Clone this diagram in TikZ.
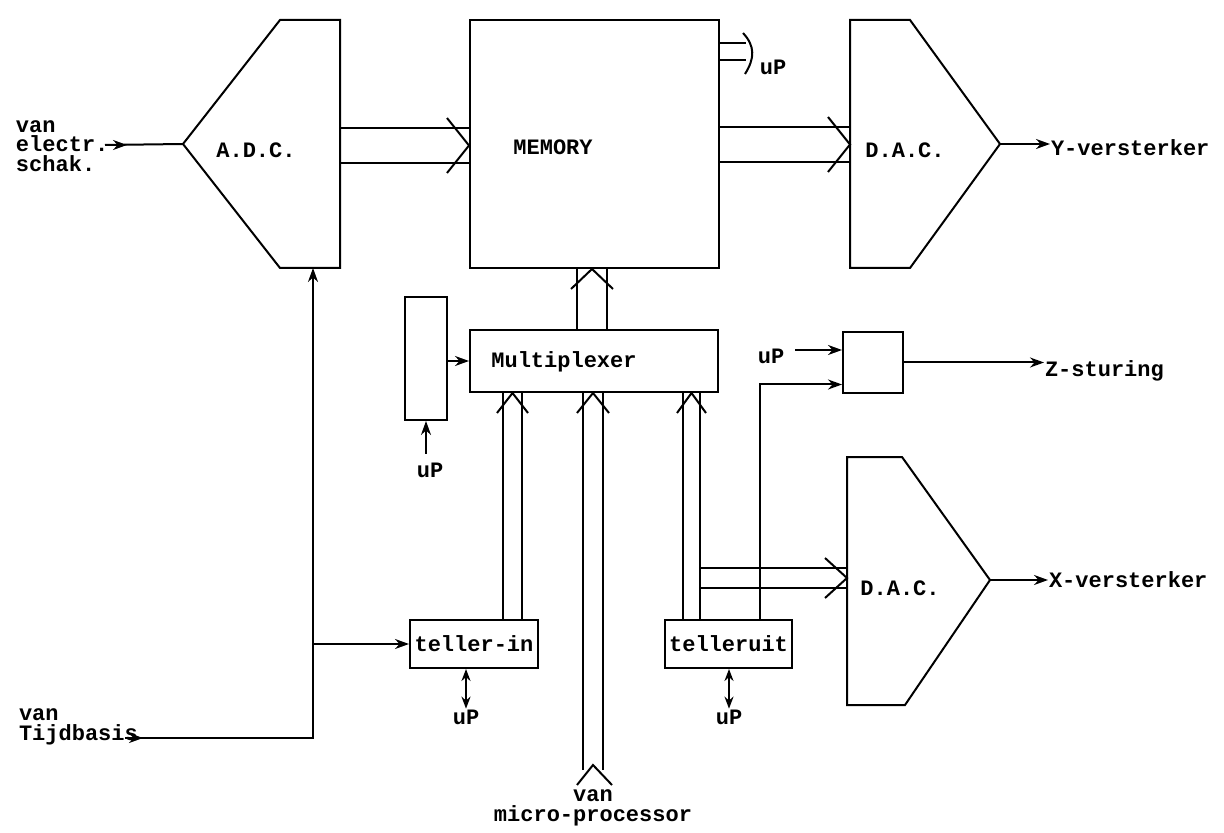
\documentclass[tikz,border=0pt]{standalone}
\usepackage{fontspec}
\setmonofont{Liberation Mono}
\usetikzlibrary{arrows.meta,positioning,calc}
\newcommand{\lbfont}{\ttfamily\bfseries\fontsize{11}{9.8}\selectfont}
\tikzset{
  blk/.style={draw,line width=1pt,inner sep=0pt},
  lbl/.style={font=\lbfont,inner sep=0pt,align=left},
  arr/.style={-{Stealth[length=7pt,width=5pt]},line width=1pt},
  darr/.style={{Stealth[length=6pt,width=4.5pt]}-{Stealth[length=6pt,width=4.5pt]},line width=1pt},
  bus/.style={line width=1pt},
}
% horizontal bus: top y, bottom y, from, to
\newcommand{\hbus}[4]{%
  \draw[bus] (0,#1 -| #3) -- (0,#1 -| #4) (0,#2 -| #3) -- (0,#2 -| #4);
  \path (0,#1 -| #4) coordinate (hb-a) (0,#2 -| #4) coordinate (hb-b);
  \draw[bus] ($(hb-a)+(-22,-10)$) -- ($(hb-a)!.5!(hb-b)$) -- ($(hb-b)+(-22,10)$);}
% vertical bus: left x, right x, from, to
\newcommand{\vbus}[4]{%
  \draw[bus] (#1,0 |- #3) -- (#1,0 |- #4) (#2,0 |- #3) -- (#2,0 |- #4);
  \path (#1,0 |- #4) coordinate (vb-a) (#2,0 |- #4) coordinate (vb-b);
  \draw[bus] ($(vb-a)+(-6,20)$) -- ($(vb-a)!.5!(vb-b)$) -- ($(vb-b)+(6,20)$);}

\begin{document}
\begin{tikzpicture}[x=0.5pt,y=-0.5pt,line width=1pt]
  \useasboundingbox (0,0) rectangle (1224,833);
  % A.D.C.
  \draw[blk] (183,144) coordinate (adc-in) -- (280,20) -- (340,20) -- (340,268)
        -- (280,268) -- cycle;
  \coordinate (adc-r) at (340,144);
  \coordinate (adc-b) at (313,268);
  \node[lbl] (adc) at (256,150) {A.D.C.};
  \node[lbl,anchor=west] (elec) at (15,146) {van\\electr.\\schak.};
  \coordinate (elec-s) at (105,145);
  \draw (elec-s) -- (adc-in);
  \draw[arr] (elec-s) -- ++(22,0);

  % memory
  \node[blk,minimum width=124.5pt,minimum height=124pt] (mem) at (594.5,144) {};
  \node[lbl] (memtxt) at (553,147) {MEMORY};
  \draw[bus] (mem.east |- 0,43) -- ++(26,0) (mem.east |- 0,60) -- ++(26,0);
  \coordinate (upm) at (745,52);
  \draw[bus] ($(upm)+(-2,-19)$) .. controls ($(upm)+(10,-6)$) and ($(upm)+(10,6)$) .. ($(upm)+(0,22)$);
  \node[lbl] (upmem) at (773,67) {uP};
  \hbus{128}{163}{adc-r}{mem.west}

  % top D.A.C.
  \draw[blk] (850,20) -- (910,20) -- (1000,144) coordinate (dacy-out) -- (910,268)
        -- (850,268) -- cycle;
  \coordinate (dacy-in) at (850,144);
  \node[lbl] (dacy) at (905,150) {D.A.C.};
  \node[lbl,anchor=west] (yv) at (1050,148) {Y-versterker};
  \draw[arr] (dacy-out) -- (dacy-out -| yv.west);
  \hbus{127}{162}{mem.east}{dacy-in}

  % multiplexer
  \node[blk,minimum width=124pt,minimum height=31pt] (mux) at (594,361) {};
  \node[lbl] (muxtxt) at (564,362) {Multiplexer};
  \node[blk,minimum width=21pt,minimum height=61.5pt] (reg) at (426,358.5) {};
  \draw[arr] (reg.east |- mux.west) -- (mux.west);
  \node[lbl] (upreg) at (430,470) {uP};
  \draw[arr] ([yshift=4pt]upreg.north -| reg.south) -- (reg.south);
  \vbus{577}{607}{mux.north}{mem.south}

  % Z-sturing
  \node[blk,minimum width=30pt,minimum height=30.5pt] (zbox) at (873,362.5) {};
  \node[lbl] (upz) at (771,356) {uP};
  \draw[arr] ([shift={(5pt,3pt)}]upz.east) coordinate (upz-s) -- (upz-s -| zbox.west);
  \node[lbl,anchor=west] (zst) at (1044,371) {Z-sturing};
  \draw[arr] (zbox.east) -- (zbox.east -| zst.west);

  % tellers
  \node[blk,lbl,minimum width=64pt,minimum height=24pt] (tin) at (474,644) {teller-in};
  \node[blk,lbl,minimum width=63.5pt,minimum height=24pt] (tuit) at (728.5,644) {telleruit};
  \node[lbl] (uptin) at (466,717) {uP};
  \node[lbl] (uptuit) at (729,717) {uP};
  \draw[darr] (uptin.north |- tin.south) -- (uptin.north);
  \draw[darr] (uptuit.north |- tuit.south) -- (uptuit.north);
  \vbus{503}{522}{tin.north}{mux.south}
  \vbus{683}{700}{tuit.north}{mux.south}
  \draw[arr] (760,0 |- tuit.north) |- ([yshift=-11pt]zbox.west);

  % van Tijdbasis
  \node[lbl,anchor=west] (tijd) at (18,727) {van\\Tijdbasis};
  \coordinate (tijd-s) at (125,738);
  \draw[arr] (tijd-s) -| (adc-b);
  \draw[arr] (tijd-s) -- ++(18,0);
  \draw[arr] (adc-b |- tin.west) -- (tin.west);

  % micro-processor bus
  \coordinate (mp) at (593,770);
  \vbus{583}{603}{mp}{mux.south}
  \draw[bus] ($(mp)+(-16,15)$) -- ($(mp)+(0,-5)$) -- ($(mp)+(19,15)$);
  \node[lbl,align=center] (mptxt) at (593,808) {van\\micro-processor};

  % bottom D.A.C.
  \draw[blk] (847,457) -- (902,457) -- (990,580) coordinate (dacx-out) -- (905,705)
        -- (847,705) -- cycle;
  \coordinate (dacx-in) at (847,578);
  \node[lbl] (dacx) at (900,588) {D.A.C.};
  \node[lbl,anchor=west] (xv) at (1048,580) {X-versterker};
  \draw[arr] (dacx-out) -- (dacx-out -| xv.west);
  \coordinate (xbus-s) at (700,578);
  \hbus{568}{588}{xbus-s}{dacx-in}
\end{tikzpicture}
\end{document}
